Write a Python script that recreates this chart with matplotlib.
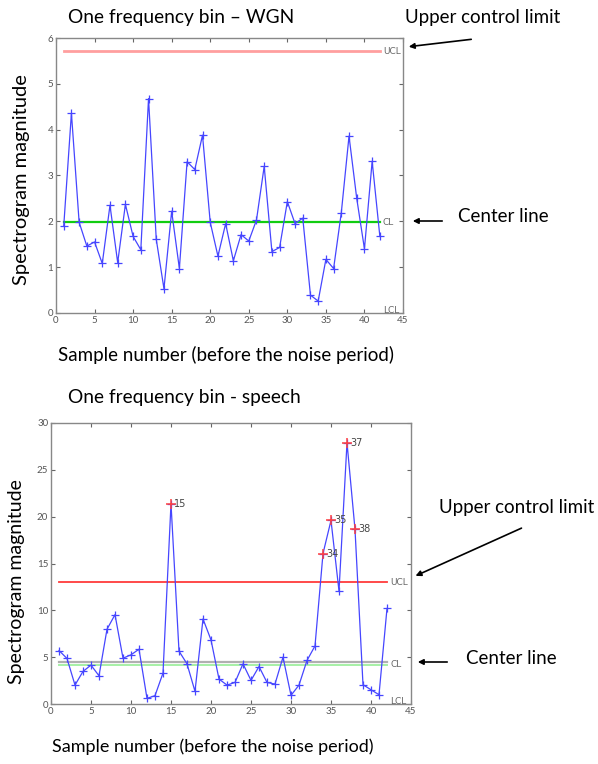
import matplotlib
matplotlib.use("Agg")
import matplotlib.pyplot as plt

plt.rcParams["font.family"] = ["Lato", "DejaVu Sans"]

# --- data: top chart (white gaussian noise) ---
wgn_samples = list(range(1, 43))
wgn_values = [1.89, 4.36, 1.98, 1.46, 1.55, 1.08, 2.35, 1.10, 2.37, 1.67,
              1.38, 4.68, 1.61, 0.53, 2.22, 0.97, 3.30, 3.13, 3.88, 1.98,
              1.24, 1.95, 1.14, 1.71, 1.57, 2.03, 3.20, 1.34, 1.43, 2.43,
              1.95, 2.07, 0.39, 0.26, 1.17, 0.97, 2.19, 3.86, 2.50, 1.40,
              3.31, 1.67]
wgn_ucl = 5.71
wgn_cl = 1.98
wgn_lcl = 0.0

# --- data: bottom chart (speech) ---
sp_samples = list(range(1, 43))
sp_values = [5.71, 4.86, 2.02, 3.48, 4.15, 3.01, 7.98, 9.54, 4.89, 5.25,
             5.85, 0.60, 0.89, 3.30, 21.4, 5.64, 4.29, 1.35, 9.08, 6.84,
             2.66, 2.02, 2.30, 4.29, 2.52, 4.00, 2.30, 2.13, 5.00, 0.92,
             2.02, 4.65, 6.20, 16.06, 19.6, 12.06, 27.9, 18.65, 2.06, 1.52,
             0.99, 10.2]
sp_ucl = 13.0
sp_cl = 4.18
sp_mean = 4.47
sp_lcl = 0.0
sp_flagged = [15, 34, 35, 37, 38]

W, H = 598, 764


def fx(x):
    return x / W


def fy(y):
    return 1 - y / H


fig = plt.figure(figsize=(W / 100, H / 100), dpi=100)


def style_axes(ax, ymax, yticks):
    ax.set_xlim(0, 45)
    ax.set_ylim(0, ymax)
    ax.set_xticks(range(0, 46, 5))
    ax.set_yticks(yticks)
    ax.tick_params(direction="in", top=True, right=True, length=3,
                   labelsize=7, colors="#666666", labelcolor="#555555", pad=2)
    for s in ax.spines.values():
        s.set_color("#888888")
        s.set_linewidth(1.0)


def limit_label(ax, y, txt):
    ax.text(42.4, y, txt, fontsize=6.5, color="#666666", va="center", ha="left",
            family="DejaVu Sans")


# --- top chart ---
ax1 = fig.add_axes([fx(56), fy(313), fx(403) - fx(56), fy(38) - fy(313)])
ax1.plot([1, 42], [wgn_ucl, wgn_ucl], color="#ff9f9f", lw=2)
ax1.plot([1, 42], [wgn_cl, wgn_cl], color="#11cc11", lw=1.6)
ax1.plot(wgn_samples, wgn_values, color="#4646ff", lw=0.9, marker="+",
         markersize=6, markeredgewidth=0.9)
limit_label(ax1, wgn_ucl, "UCL")
limit_label(ax1, wgn_cl, "CL")
limit_label(ax1, wgn_lcl + 0.05, "LCL")
style_axes(ax1, 6, range(0, 7))

# --- bottom chart ---
ax2 = fig.add_axes([fx(51), fy(704), fx(411) - fx(51), fy(423) - fy(704)])
ax2.plot([1, 42], [sp_ucl, sp_ucl], color="#ff3b3b", lw=1.3)
ax2.plot([1, 42], [sp_mean, sp_mean], color="#b0b0b0", lw=1.6)
ax2.plot([1, 42], [sp_cl, sp_cl], color="#a6f0a6", lw=1.4)
ax2.plot(sp_samples, sp_values, color="#4646ff", lw=0.9, marker="+",
         markersize=6, markeredgewidth=0.9)
for s in sp_flagged:
    v = sp_values[s - 1]
    ax2.plot(s, v, marker="+", color="#ff4040", markersize=7, markeredgewidth=1.1)
    ax2.text(s + 0.4, v, str(s), fontsize=7, color="#444444", va="center",
             ha="left", family="DejaVu Sans")
limit_label(ax2, sp_ucl, "UCL")
limit_label(ax2, sp_mean - 0.2, "CL")
limit_label(ax2, sp_lcl + 0.3, "LCL")
style_axes(ax2, 30, range(0, 31, 5))

# --- titles, axis labels, annotations ---
fig.text(fx(68), fy(17), "One frequency bin – WGN", ha="left", va="center", fontsize=13.8)
fig.text(fx(68), fy(398), "One frequency bin - speech", ha="left", va="center", fontsize=13.8)
fig.text(fx(58), fy(355), "Sample number (before the noise period)", ha="left",
         va="center", fontsize=13.5)
fig.text(fx(52), fy(747), "Sample number (before the noise period)", ha="left",
         va="center", fontsize=13)
fig.text(fx(22), fy(180), "Spectrogram magnitude", rotation=90, ha="center",
         va="center", fontsize=14.5)
fig.text(fx(17), fy(582), "Spectrogram magnitude", rotation=90, ha="center",
         va="center", fontsize=14)

ann_kw = dict(ha="left", va="center", fontsize=13.5)
fig.text(fx(405), fy(17), "Upper control limit", **ann_kw)
fig.text(fx(458), fy(217), "Center line", **ann_kw)
fig.text(fx(439), fy(507), "Upper control limit", **ann_kw)
fig.text(fx(466), fy(659), "Center line", **ann_kw)

arrows = [((474, 39), (406, 47)),
          ((445, 221), (410, 221)),
          ((524, 527), (413, 577)),
          ((450, 662), (415, 662))]
for (x0, y0), (x1, y1) in arrows:
    fig.add_artist(matplotlib.patches.FancyArrowPatch(
        (fx(x0), fy(y0)), (fx(x1), fy(y1)), transform=fig.transFigure,
        arrowstyle="-|>", mutation_scale=8, color="black", lw=1.2))

fig.savefig("out.png", dpi=100)
